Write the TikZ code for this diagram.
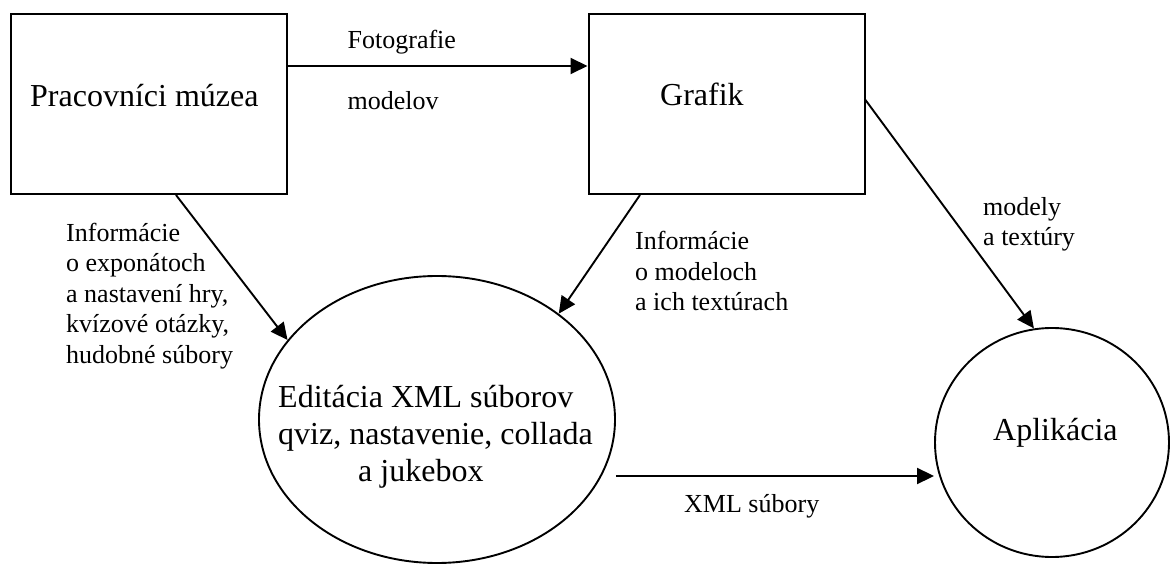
\documentclass[tikz,border=0pt]{standalone}
\usepackage{fontspec}
\setmainfont{Liberation Serif}
\usetikzlibrary{arrows.meta,shapes.geometric}
\tikzset{
  box/.style={draw, line width=2pt, inner sep=0pt, minimum width=276pt, minimum height=180pt},
  oval/.style={draw, ellipse, line width=1.9pt, inner sep=0pt},
  flow/.style={line width=1.9pt, -{Triangle[length=17pt,width=16pt]}},
  big/.style={inner sep=0pt, anchor=base west, align=left, font=\fontsize{32}{37}\selectfont},
  lbl/.style={inner sep=0pt, anchor=base west, align=left, font=\fontsize{26}{30.5}\selectfont},
}
\begin{document}
\begin{tikzpicture}[x=1pt,y=-1pt]
\useasboundingbox (0,0) rectangle (1171,564);

% actors and processes
\node[box] (muz) at (149,104) {};
\node[box] (graf) at (726.5,104) {};
\node[oval, minimum width=356pt, minimum height=287pt] (ell) at (437,419.5) {};
\node[oval, minimum width=234pt, minimum height=229pt] (app) at (1052,442.5) {};

% their titles (multi-line nodes sit on the baseline of their last line)
\node[big] (tmuz) at (30,107) {Pracovníci múzea};
\node[big] (tgraf) at (660,106) {Grafik};
\node[big] (tapp) at (993,440) {Aplikácia};
\node[big] (tell) at (278,481) {Editácia XML súborov\\qviz, nastavenie, collada\\\hspace*{80pt}a jukebox};

% data flows
\draw[flow] ([yshift=38pt]muz.east) -- ([yshift=38pt]graf.west);
\draw[flow] ([xshift=27pt]muz.south) -- (ell.152.7);
\draw[flow] ([xshift=-86.5pt]graf.south) -- (ell.41);
\draw[flow] ([yshift=4pt]graf.east) -- (app.99);
\draw[flow] ([yshift=-56.5pt]ell.east) -- ([yshift=-33.5pt]app.west);

% flow labels
\node[lbl] (l1) at (347.5,49) {Fotografie};
\node[lbl] (l2) at (347.5,110) {modelov};
\node[lbl] (l3) at (66,363) {Informácie\\o exponátoch\\a nastavení hry,\\kvízové otázky,\\hudobné súbory};
\node[lbl] (l4) at (635,311) {Informácie\\o modeloch\\a ich textúrach};
\node[lbl] (l5) at (983,246) {modely\\a textúry};
\node[lbl] (l6) at (684,512) {XML súbory};
\end{tikzpicture}
\end{document}
